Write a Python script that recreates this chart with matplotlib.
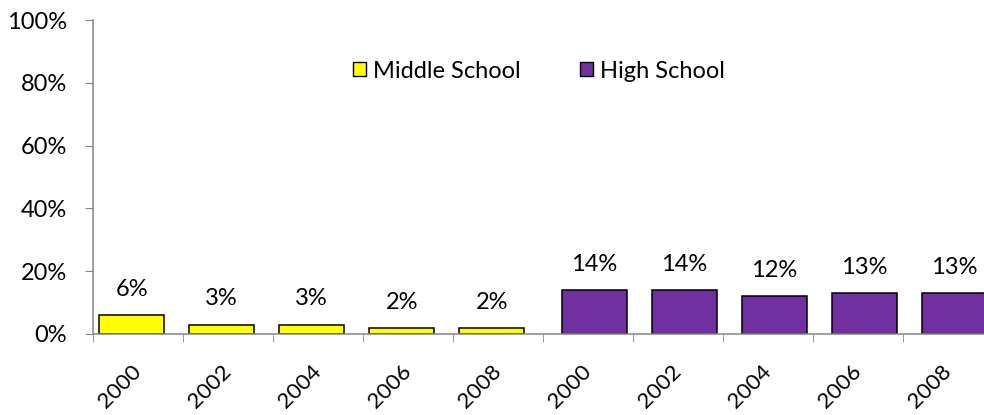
import numpy as np
import matplotlib.pyplot as plt
from matplotlib.patches import Patch

years = ["2000", "2002", "2004", "2006", "2008"]
middle = [6, 3, 3, 2, 2]
high = [14, 14, 12, 13, 13]

plt.rcParams['font.family'] = ['Lato', 'DejaVu Sans']
fs = 17
fig = plt.figure(figsize=(9.84, 4.15), dpi=100)
ax = fig.add_axes([93 / 984, 1 - 334 / 415, 900 / 984, 314 / 415])

gris = '#868686'
w = 0.72
xm = np.arange(5) - 0.07
xh = np.arange(5, 10) + 0.07
b1 = ax.bar(xm, middle, w, color='#FFFF00', edgecolor='black', linewidth=1.1)
b2 = ax.bar(xh, high, w, color='#7030A0', edgecolor='black', linewidth=1.1)

for rects, vals in ((b1, middle), (b2, high)):
    for r, v in zip(rects, vals):
        ax.annotate(f"{v}%", (r.get_x() + r.get_width() / 2, v),
                    xytext=(0, 18.5), textcoords='offset points',
                    ha='center', va='center', fontsize=fs)

ax.set_xlim(-0.5, 9.5)
ax.set_ylim(0, 100)
ax.set_yticks(range(0, 101, 20))
ax.set_yticklabels([f"{t}%" for t in range(0, 101, 20)], fontsize=fs)
ax.tick_params(axis='y', length=5.8, color=gris, pad=13)

ax.set_xticks(np.arange(10))
ax.set_xticklabels(years + years, fontsize=16, rotation=45,
                   ha='right', va='center', rotation_mode='anchor')
ax.tick_params(axis='x', which='major', length=0, pad=24.5)
ax.set_xticks(np.arange(11) - 0.5, minor=True)
ax.tick_params(axis='x', which='minor', length=6, color=gris)

for s in ('top', 'right'):
    ax.spines[s].set_visible(False)
for s in ('left', 'bottom'):
    ax.spines[s].set_color(gris)
    ax.spines[s].set_linewidth(1.1)

handles = [Patch(facecolor='#FFFF00', edgecolor='black', label='Middle School'),
           Patch(facecolor='#7030A0', edgecolor='black', label='High School')]
fig.legend(handles=handles, loc='center', bbox_to_anchor=(0.548, 1 - 71 / 415),
           ncol=2, frameon=False, fontsize=fs, handlelength=0.55, handleheight=0.55,
           handletextpad=0.3, columnspacing=2.5)

fig.savefig('out.png', dpi=100)
